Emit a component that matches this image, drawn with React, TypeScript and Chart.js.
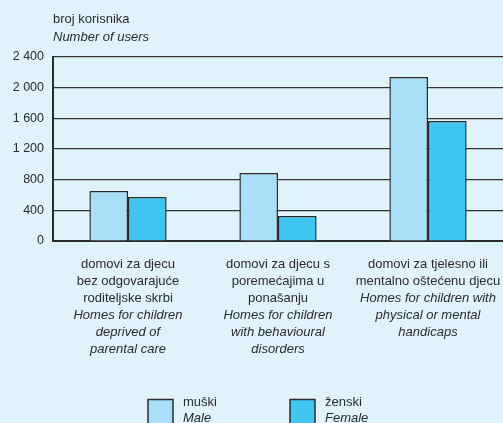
import React, { useEffect, useRef } from "react";
import { Chart, registerables } from "chart.js";

Chart.register(...registerables);

const categoriesHr = [
  ["domovi za djecu", "bez odgovarajuće", "roditeljske skrbi"],
  ["domovi za djecu s", "poremećajima u", "ponašanju"],
  ["domovi za tjelesno ili", "mentalno oštećenu djecu"],
];
const categoriesEn = [
  ["Homes for children", "deprived of", "parental care"],
  ["Homes for children", "with behavioural", "disorders"],
  ["Homes for children with", "physical or mental", "handicaps"],
];
const maleValues = [652, 887, 2139];
const femaleValues = [574, 326, 1565];
const seriesHr = ["muški", "ženski"];
const seriesEn = ["Male", "Female"];
const yTitleHr = "broj korisnika";
const yTitleEn = "Number of users";

const BG = "#e1f3fa";
const MALE = "#aadff9";
const FEMALE = "#40c6f0";
const INK = "#2b2b2b";
const FONT = "'Liberation Sans', Arial, sans-serif";

const fmt = (v: number) => {
  const s = String(Math.round(v));
  return s.replace(/\B(?=(\d{3})+(?!\d))/g, " ");
};

const decorPlugin = {
  id: "decor",
  beforeDraw(chart: any) {
    const ctx = chart.ctx;
    ctx.save();
    ctx.fillStyle = BG;
    ctx.fillRect(0, 0, chart.width, chart.height);
    ctx.restore();
  },
  afterDraw(chart: any) {
    const ctx = chart.ctx;
    const x = chart.scales.x;
    ctx.save();
    ctx.fillStyle = INK;
    ctx.textBaseline = "middle";
    // axis title
    ctx.textAlign = "left";
    ctx.font = `13px ${FONT}`;
    ctx.fillText(yTitleHr, 53, 19);
    ctx.font = `italic 13px ${FONT}`;
    ctx.fillText(yTitleEn, 53, 37);
    // category labels
    ctx.textAlign = "center";
    categoriesHr.forEach((hr, i) => {
      const cx = x.getPixelForValue(i);
      let yy = 264;
      hr.forEach((line) => {
        ctx.font = `13px ${FONT}`;
        ctx.fillText(line, cx, yy);
        yy += 17;
      });
      categoriesEn[i].forEach((line) => {
        ctx.font = `italic 13px ${FONT}`;
        ctx.fillText(line, cx, yy);
        yy += 17;
      });
    });
    // legend
    const items = [
      { x: 148, color: MALE, hr: seriesHr[0], en: seriesEn[0] },
      { x: 290, color: FEMALE, hr: seriesHr[1], en: seriesEn[1] },
    ];
    items.forEach((it) => {
      ctx.fillStyle = it.color;
      ctx.strokeStyle = INK;
      ctx.lineWidth = 1.5;
      ctx.fillRect(it.x, 399.5, 25, 30);
      ctx.strokeRect(it.x, 399.5, 25, 30);
      ctx.fillStyle = INK;
      ctx.textAlign = "left";
      ctx.font = `13px ${FONT}`;
      ctx.fillText(it.hr, it.x + 35, 402);
      ctx.font = `italic 13px ${FONT}`;
      ctx.fillText(it.en, it.x + 35, 418);
    });
    ctx.restore();
  },
};

export default function App() {
  const ref = useRef<HTMLCanvasElement | null>(null);
  useEffect(() => {
    document.body.style.margin = "0";
    const chart = new Chart(ref.current as HTMLCanvasElement, {
      type: "bar",
      data: {
        labels: categoriesHr.map((c) => c.join(" ")),
        datasets: [
          {
            label: seriesEn[0],
            data: maleValues,
            backgroundColor: MALE,
            borderColor: INK,
            borderWidth: 1.5,
            barPercentage: 1,
            categoryPercentage: 0.515,
          },
          {
            label: seriesEn[1],
            data: femaleValues,
            backgroundColor: FEMALE,
            borderColor: INK,
            borderWidth: 1.5,
            barPercentage: 1,
            categoryPercentage: 0.515,
          },
        ],
      },
      options: {
        animation: false,
        responsive: false,
        maintainAspectRatio: false,
        layout: { padding: { top: 57, bottom: 182, left: 0, right: 0 } },
        plugins: {
          legend: { display: false },
          tooltip: { enabled: false },
          title: { display: false },
        },
        scales: {
          x: {
            grid: { display: false },
            ticks: { display: false },
            border: { display: true, color: INK, width: 2 },
            afterFit: (s: any) => {
              s.height = 0;
            },
          },
          y: {
            min: 0,
            max: 2400,
            ticks: {
              stepSize: 400,
              padding: 9,
              color: INK,
              font: { family: FONT, size: 12.5 },
              callback: (v: any) => fmt(Number(v)),
            },
            grid: { color: "#333", lineWidth: 1.2, drawTicks: false },
            border: { display: true, color: INK, width: 2 },
            afterFit: (s: any) => {
              s.width = 53;
              s.paddingTop = 0;
              s.paddingBottom = 0;
            },
          },
        },
      },
      plugins: [decorPlugin],
    });
    return () => chart.destroy();
  }, []);
  return (
    <div style={{ position: "absolute", left: 0, top: 0, width: 503, height: 423 }}>
      <canvas ref={ref} width={503} height={423} style={{ display: "block" }} />
    </div>
  );
}
